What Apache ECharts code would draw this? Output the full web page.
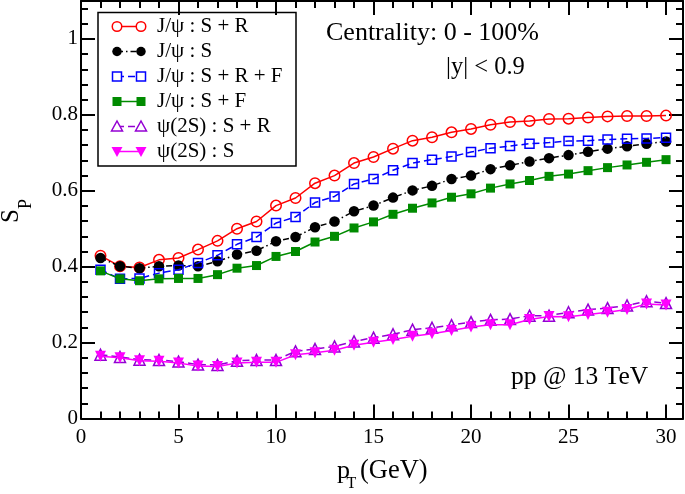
<!DOCTYPE html>
<html><head><meta charset="utf-8">
<script src="https://cdn.jsdelivr.net/npm/echarts@6/dist/echarts.min.js"></script>
<style>html,body{margin:0;padding:0;background:#fff}#c{width:685px;height:494px}</style>
</head><body><div id="c"></div><script>
// ---- data ----
const pT = [1,2,3,4,5,6,7,8,9,10,11,12,13,14,15,16,17,18,19,20,21,22,23,24,25,26,27,28,29,30];
const jpsiSR  = [0.429,0.401,0.398,0.418,0.423,0.445,0.468,0.500,0.519,0.561,0.581,0.620,0.640,0.673,0.689,0.711,0.732,0.741,0.754,0.763,0.774,0.781,0.784,0.789,0.790,0.793,0.796,0.797,0.797,0.798];
const jpsiS   = [0.423,0.401,0.396,0.401,0.403,0.401,0.414,0.432,0.442,0.467,0.478,0.504,0.519,0.546,0.561,0.582,0.601,0.613,0.631,0.640,0.657,0.667,0.677,0.686,0.694,0.703,0.711,0.717,0.724,0.730];
const jpsiSRF = [0.392,0.368,0.369,0.383,0.392,0.410,0.430,0.459,0.478,0.515,0.531,0.569,0.585,0.618,0.631,0.654,0.673,0.682,0.690,0.702,0.712,0.718,0.724,0.727,0.731,0.732,0.735,0.737,0.738,0.740];
const jpsiSF  = [0.389,0.368,0.363,0.368,0.369,0.369,0.379,0.396,0.403,0.427,0.440,0.465,0.480,0.502,0.518,0.538,0.554,0.568,0.583,0.592,0.607,0.618,0.627,0.638,0.644,0.653,0.661,0.668,0.675,0.682];
const psi2sSR = [0.168,0.162,0.155,0.154,0.150,0.142,0.141,0.152,0.154,0.154,0.177,0.183,0.190,0.203,0.213,0.222,0.234,0.239,0.246,0.254,0.260,0.262,0.271,0.271,0.280,0.287,0.291,0.298,0.309,0.304];
const psi2sS  = [0.164,0.160,0.152,0.151,0.146,0.138,0.137,0.146,0.148,0.148,0.168,0.173,0.180,0.193,0.201,0.208,0.217,0.223,0.232,0.241,0.247,0.247,0.261,0.269,0.268,0.274,0.280,0.287,0.302,0.299];
const seriesNames = ['J/\u03c8 : S + R','J/\u03c8 : S','J/\u03c8 : S + R + F','J/\u03c8 : S + F','\u03c8(2S) : S + R','\u03c8(2S) : S'];
const xMajorTicks = [0,5,10,15,20,25,30];
const xMinorTicks = [1,2,3,4,6,7,8,9,11,12,13,14,16,17,18,19,21,22,23,24,26,27,28,29];
const yMajorTicks = [0,0.2,0.4,0.6,0.8,1.0];
const yMinorTicks = [0.04,0.08,0.12,0.16,0.24,0.28,0.32,0.36,0.44,0.48,0.52,0.56,0.64,0.68,0.72,0.76,0.84,0.88,0.92,0.96,1.04,1.08];
const xTitle = ['p','T','(GeV)'];
const yTitle = ['S','P'];
const notes = ['Centrality: 0 - 100%','|y| < 0.9','pp @ 13 TeV'];

// ---- styles ----
const FONT = '"Liberation Serif","DejaVu Serif",serif';
const dataSets = [jpsiSR, jpsiS, jpsiSRF, jpsiSF, psi2sSR, psi2sS];
const styles = [
  {color:'#ff0000', symbol:'circle', size:10.5, open:true, dash:'solid', rot:0},
  {color:'#000000', symbol:'circle', size:10.5, open:false, dash:[6,3,1.5,3], rot:0},
  {color:'#0000ff', symbol:'rect', size:9, open:true, dash:[7,4], rot:0},
  {color:'#008b00', symbol:'rect', size:9, open:false, dash:'solid', rot:0},
  {color:'#9400d3', symbol:'triangle', size:11, open:true, dash:[7,4], rot:0},
  {color:'#ff00ff', symbol:'triangle', size:11, open:false, dash:'solid', rot:180}
];

const XMAX = 30.87, YMAX = 1.1;
const tickStyle = {color:'#000', width:2};
function xAx(pos, ticks, len, showLine, showLabel){
  return {type:'value', min:0, max:XMAX, position:pos, gridIndex:0,
    axisLine:{show:showLine, onZero:false, lineStyle:{color:'#000', width:2}},
    axisTick:{show:true, inside:true, length:len, customValues:ticks, lineStyle:tickStyle},
    axisLabel:{show:showLabel, customValues:ticks, fontFamily:FONT, fontSize:21, color:'#000', margin:8},
    splitLine:{show:false}, minorTick:{show:false}};
}
function yAx(pos, ticks, len, showLine, showLabel){
  return {type:'value', min:0, max:YMAX, position:pos, gridIndex:0,
    axisLine:{show:showLine, onZero:false, lineStyle:{color:'#000', width:2}},
    axisTick:{show:true, inside:true, length:len, customValues:ticks, lineStyle:tickStyle},
    axisLabel:{show:showLabel, customValues:ticks, fontFamily:FONT, fontSize:21, color:'#000', margin:3,
      formatter:v=>String(+v.toFixed(2))},
    splitLine:{show:false}, minorTick:{show:false}};
}

const series = dataSets.map((d,i)=>{
  const s = styles[i];
  return {
    type:'line', name:seriesNames[i], xAxisIndex:0, yAxisIndex:0,
    data:pT.map((x,k)=>[x,d[k]]),
    symbol:s.symbol, symbolSize:s.size, symbolRotate:s.rot, showSymbol:true,
    lineStyle:{color:s.color, width:1.5, type:s.dash},
    itemStyle:{color:s.open?'rgba(255,255,255,0)':s.color, borderColor:s.color, borderWidth:s.open?1.5:0},
    emphasis:{disabled:true}, z:2+i
  };
});

// legend drawn as graphic group
const legendEls = [{type:'rect', shape:{x:98, y:12.5, width:198, height:153.5}, style:{fill:'#fff', stroke:'#000', lineWidth:1.5}}];
function symEl(s, cx, cy){
  const st = {fill:s.open?'#fff':s.color, stroke:s.color, lineWidth:s.open?1.5:0};
  const h = s.size/2;
  if(s.symbol==='circle') return {type:'circle', shape:{cx, cy, r:h-0.5}, style:st};
  if(s.symbol==='rect') return {type:'rect', shape:{x:cx-h, y:cy-h, width:s.size, height:s.size}, style:st};
  if(s.rot===180) return {type:'polygon', shape:{points:[[cx-h,cy-h+1],[cx+h,cy-h+1],[cx,cy+h]]}, style:st};
  return {type:'polygon', shape:{points:[[cx-h,cy+h-1],[cx+h,cy+h-1],[cx,cy-h]]}, style:st};
}
styles.forEach((s,i)=>{
  const cy = 26.5 + 25*i;
  legendEls.push({type:'line', shape:{x1:117, y1:cy, x2:141, y2:cy}, style:{stroke:s.color, lineWidth:1.5, lineDash:s.dash==='solid'?null:s.dash}});
  legendEls.push(symEl(s,117,cy));
  legendEls.push(symEl(s,141,cy));
  legendEls.push({type:'text', x:157, y:cy, style:{text:seriesNames[i], fontFamily:FONT, fontSize:21, fill:'#000', align:'left', verticalAlign:'middle'}});
});

const graphic = [
  {type:'group', children:legendEls, z:100},
  {type:'text', x:326, y:33, z:100, style:{text:notes[0], fontFamily:FONT, fontSize:26, fill:'#000', align:'left', verticalAlign:'middle'}},
  {type:'text', x:446, y:68, z:100, style:{text:notes[1], fontFamily:FONT, fontSize:24.5, fill:'#000', align:'left', verticalAlign:'middle'}},
  {type:'text', x:511, y:377, z:100, style:{text:notes[2], fontFamily:FONT, fontSize:25.5, fill:'#000', align:'left', verticalAlign:'middle'}},
  {type:'text', x:337, y:471, style:{text:xTitle[0], fontFamily:FONT, fontSize:26, fill:'#000', align:'left', verticalAlign:'middle'}},
  {type:'text', x:346.5, y:484, style:{text:xTitle[1], fontFamily:FONT, fontSize:16, fill:'#000', align:'left', verticalAlign:'middle'}},
  {type:'text', x:360, y:471, style:{text:xTitle[2], fontFamily:FONT, fontSize:26.5, fill:'#000', align:'left', verticalAlign:'middle'}},
  {type:'group', x:11, y:223, rotation:Math.PI/2, children:[
    {type:'text', x:0, y:0, style:{text:yTitle[0], fontFamily:FONT, fontSize:25, fill:'#000', align:'left', verticalAlign:'middle'}},
    {type:'text', x:14, y:15.5, style:{text:yTitle[1], fontFamily:FONT, fontSize:18, fill:'#000', align:'left', verticalAlign:'middle'}}
  ]}
];

const chart = echarts.init(document.getElementById('c'));
chart.setOption({
  animation:false,
  backgroundColor:'#fff',
  grid:{left:81, right:2, top:1, bottom:75.5, containLabel:false, outerBoundsMode:'none'},
  xAxis:[xAx('bottom',xMajorTicks,14,true,true), xAx('bottom',xMinorTicks,7,false,false),
         xAx('top',xMajorTicks,14,true,false), xAx('top',xMinorTicks,7,false,false)],
  yAxis:[yAx('left',yMajorTicks,14,true,true), yAx('left',yMinorTicks,7,false,false),
         yAx('right',yMajorTicks,14,true,false), yAx('right',yMinorTicks,7,false,false)],
  series:series,
  graphic:graphic
});
</script></body></html>
